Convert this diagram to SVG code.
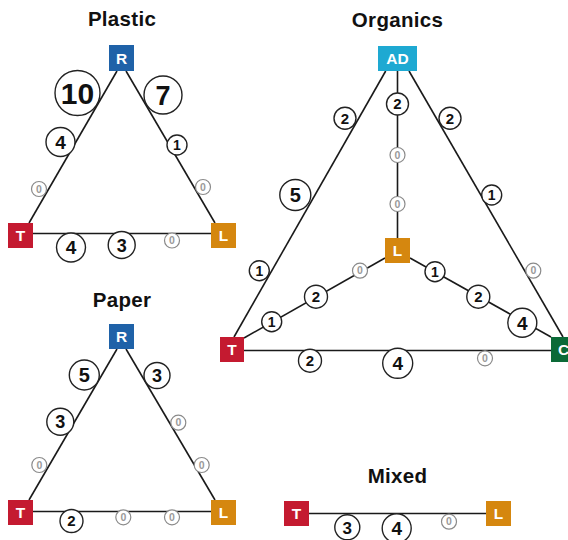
<svg xmlns="http://www.w3.org/2000/svg" width="568" height="540" viewBox="0 0 568 540">
<style>
.title{font-family:"Liberation Sans",Arial,sans-serif;font-weight:bold;font-size:20.5px;letter-spacing:0.3px;fill:#111;text-anchor:middle}
.edge{stroke:#1a1a1a;stroke-width:1.6;fill:none}
.box text{font-family:"Liberation Sans",Arial,sans-serif;font-weight:bold;font-size:15.5px;fill:#fff;text-anchor:middle}
.lbl circle{fill:#fff;stroke:#222;stroke-width:1.4}
.lbl text{font-family:"Liberation Sans",Arial,sans-serif;font-weight:bold;fill:#111;text-anchor:middle}
.lbl .z circle{stroke:#8a8a8a;stroke-width:1.2}
.lbl .z text{fill:#9a9a9a;font-size:10.5px}
.R{fill:#1f62a8}.T{fill:#c41a30}.L{fill:#d5870f}.AD{fill:#1ea9d2}.C{fill:#0b6a37}
</style>
<text class="title" x="122" y="26">Plastic</text>
<text class="title" x="397.5" y="27">Organics</text>
<text class="title" x="122" y="306.5">Paper</text>
<text class="title" x="397.5" y="483">Mixed</text>
<g id="connectors">
<line class="edge" x1="117" y1="71" x2="29" y2="223"/>
<line class="edge" x1="126" y1="71" x2="215" y2="223"/>
<line class="edge" x1="33" y1="233.5" x2="211" y2="233.5"/>
<line class="edge" x1="117" y1="349" x2="29" y2="500"/>
<line class="edge" x1="126" y1="349" x2="215" y2="500"/>
<line class="edge" x1="33" y1="511.5" x2="211" y2="511.5"/>
<line class="edge" x1="385.7" y1="71" x2="234" y2="337"/>
<line class="edge" x1="409" y1="71" x2="563" y2="337"/>
<line class="edge" x1="397.5" y1="71" x2="397.5" y2="238"/>
<line class="edge" x1="385" y1="258" x2="244" y2="338"/>
<line class="edge" x1="410" y1="258" x2="551" y2="337"/>
<line class="edge" x1="244" y1="350.5" x2="551" y2="350.5"/>
<line class="edge" x1="309" y1="513.5" x2="486" y2="513.5"/>
</g>
<g id="labels" class="lbl">
<!-- Plastic -->
<g><circle cx="77.5" cy="93" r="22.5"/><text x="77.5" y="103.8" font-size="30">10</text></g>
<g><circle cx="163" cy="95" r="19"/><text x="163" y="104.7" font-size="27">7</text></g>
<g><circle cx="60.5" cy="142" r="14.5"/><text x="60.5" y="148.8" font-size="19">4</text></g>
<g><circle cx="177" cy="145" r="10"/><text x="177" y="150" font-size="14">1</text></g>
<g class="z"><circle cx="39" cy="189" r="7.5"/><text x="39" y="192.7">0</text></g>
<g class="z"><circle cx="203" cy="187" r="7.5"/><text x="203" y="190.7">0</text></g>
<g><circle cx="71" cy="247.5" r="14.5"/><text x="71" y="254.3" font-size="19">4</text></g>
<g><circle cx="121.7" cy="245" r="13.5"/><text x="121.7" y="251.5" font-size="18">3</text></g>
<g class="z"><circle cx="172" cy="240.5" r="7.5"/><text x="172" y="244.2">0</text></g>
<!-- Paper -->
<g><circle cx="84.3" cy="375" r="15"/><text x="84.3" y="382.2" font-size="20">5</text></g>
<g><circle cx="60.3" cy="421.7" r="13.5"/><text x="60.3" y="428.2" font-size="18">3</text></g>
<g class="z"><circle cx="39.3" cy="465" r="7.5"/><text x="39.3" y="468.7">0</text></g>
<g><circle cx="157" cy="375.5" r="13"/><text x="157" y="382" font-size="18">3</text></g>
<g class="z"><circle cx="178.3" cy="422.7" r="7.5"/><text x="178.3" y="426.4">0</text></g>
<g class="z"><circle cx="201.7" cy="465" r="7.5"/><text x="201.7" y="468.7">0</text></g>
<g><circle cx="71.5" cy="521" r="11.5"/><text x="71.5" y="526.4" font-size="15">2</text></g>
<g class="z"><circle cx="123.3" cy="517.3" r="7.5"/><text x="123.3" y="521">0</text></g>
<g class="z"><circle cx="172" cy="517.3" r="7.5"/><text x="172" y="521">0</text></g>
<!-- Organics -->
<g><circle cx="345" cy="118.3" r="11"/><text x="345" y="123.7" font-size="15">2</text></g>
<g><circle cx="295.3" cy="195" r="15.5"/><text x="295.3" y="202.2" font-size="20">5</text></g>
<g><circle cx="259.3" cy="270.7" r="10"/><text x="259.3" y="275.7" font-size="14">1</text></g>
<g><circle cx="397.5" cy="104" r="11"/><text x="397.5" y="109.4" font-size="15">2</text></g>
<g class="z"><circle cx="397.5" cy="155" r="7.5"/><text x="397.5" y="158.7">0</text></g>
<g class="z"><circle cx="397.5" cy="204" r="7.5"/><text x="397.5" y="207.7">0</text></g>
<g><circle cx="450" cy="118.3" r="11"/><text x="450" y="123.7" font-size="15">2</text></g>
<g><circle cx="491.7" cy="195" r="10"/><text x="491.7" y="200" font-size="14">1</text></g>
<g class="z"><circle cx="533.3" cy="270.7" r="7.5"/><text x="533.3" y="274.4">0</text></g>
<g class="z"><circle cx="360" cy="270.7" r="7.5"/><text x="360" y="274.4">0</text></g>
<g><circle cx="316" cy="296.7" r="11.5"/><text x="316" y="302.1" font-size="15">2</text></g>
<g><circle cx="271.7" cy="321.7" r="10"/><text x="271.7" y="326.7" font-size="14">1</text></g>
<g><circle cx="435" cy="271.7" r="10"/><text x="435" y="276.7" font-size="14">1</text></g>
<g><circle cx="478.3" cy="296.7" r="11.5"/><text x="478.3" y="302.1" font-size="15">2</text></g>
<g><circle cx="522.3" cy="322.7" r="14.5"/><text x="522.3" y="329.5" font-size="19">4</text></g>
<g><circle cx="310" cy="360.7" r="11.5"/><text x="310" y="366.1" font-size="15">2</text></g>
<g><circle cx="397.7" cy="363.3" r="15"/><text x="397.7" y="370.1" font-size="19">4</text></g>
<g class="z"><circle cx="485" cy="358.3" r="7.5"/><text x="485" y="362">0</text></g>
<!-- Mixed -->
<g><circle cx="347.3" cy="527.3" r="12.5"/><text x="347.3" y="533.6" font-size="17">3</text></g>
<g><circle cx="396.7" cy="528.3" r="14.5"/><text x="396.7" y="535.1" font-size="19">4</text></g>
<g class="z"><circle cx="449" cy="521.7" r="7.5"/><text x="449" y="525.4">0</text></g>
</g>
<g id="plastic-R" class="box"><rect class="R" x="109" y="45" width="25" height="26"/><text x="121.5" y="63.5">R</text></g>
<g id="plastic-T" class="box"><rect class="T" x="8" y="223" width="25" height="25"/><text x="20.5" y="241">T</text></g>
<g id="plastic-L" class="box"><rect class="L" x="211" y="223" width="25" height="25"/><text x="223.5" y="241">L</text></g>
<g id="paper-R" class="box"><rect class="R" x="109" y="324" width="25" height="25"/><text x="121.5" y="342">R</text></g>
<g id="paper-T" class="box"><rect class="T" x="8" y="500" width="25" height="25"/><text x="20.5" y="518">T</text></g>
<g id="paper-L" class="box"><rect class="L" x="211" y="500" width="25" height="25"/><text x="223.5" y="518">L</text></g>
<g id="organics-AD" class="box"><rect class="AD" x="378" y="46" width="39" height="25"/><text x="397.5" y="64">AD</text></g>
<g id="organics-T" class="box"><rect class="T" x="220" y="337" width="24" height="25"/><text x="232" y="355">T</text></g>
<g id="organics-L" class="box"><rect class="L" x="385" y="238" width="25" height="25"/><text x="397.5" y="256">L</text></g>
<g id="organics-C" class="box"><rect class="C" x="551" y="337" width="25" height="25"/><text x="563.5" y="355">C</text></g>
<g id="mixed-T" class="box"><rect class="T" x="284" y="501" width="25" height="25"/><text x="296.5" y="519">T</text></g>
<g id="mixed-L" class="box"><rect class="L" x="486" y="501" width="25" height="25"/><text x="498.5" y="519">L</text></g>
</svg>
